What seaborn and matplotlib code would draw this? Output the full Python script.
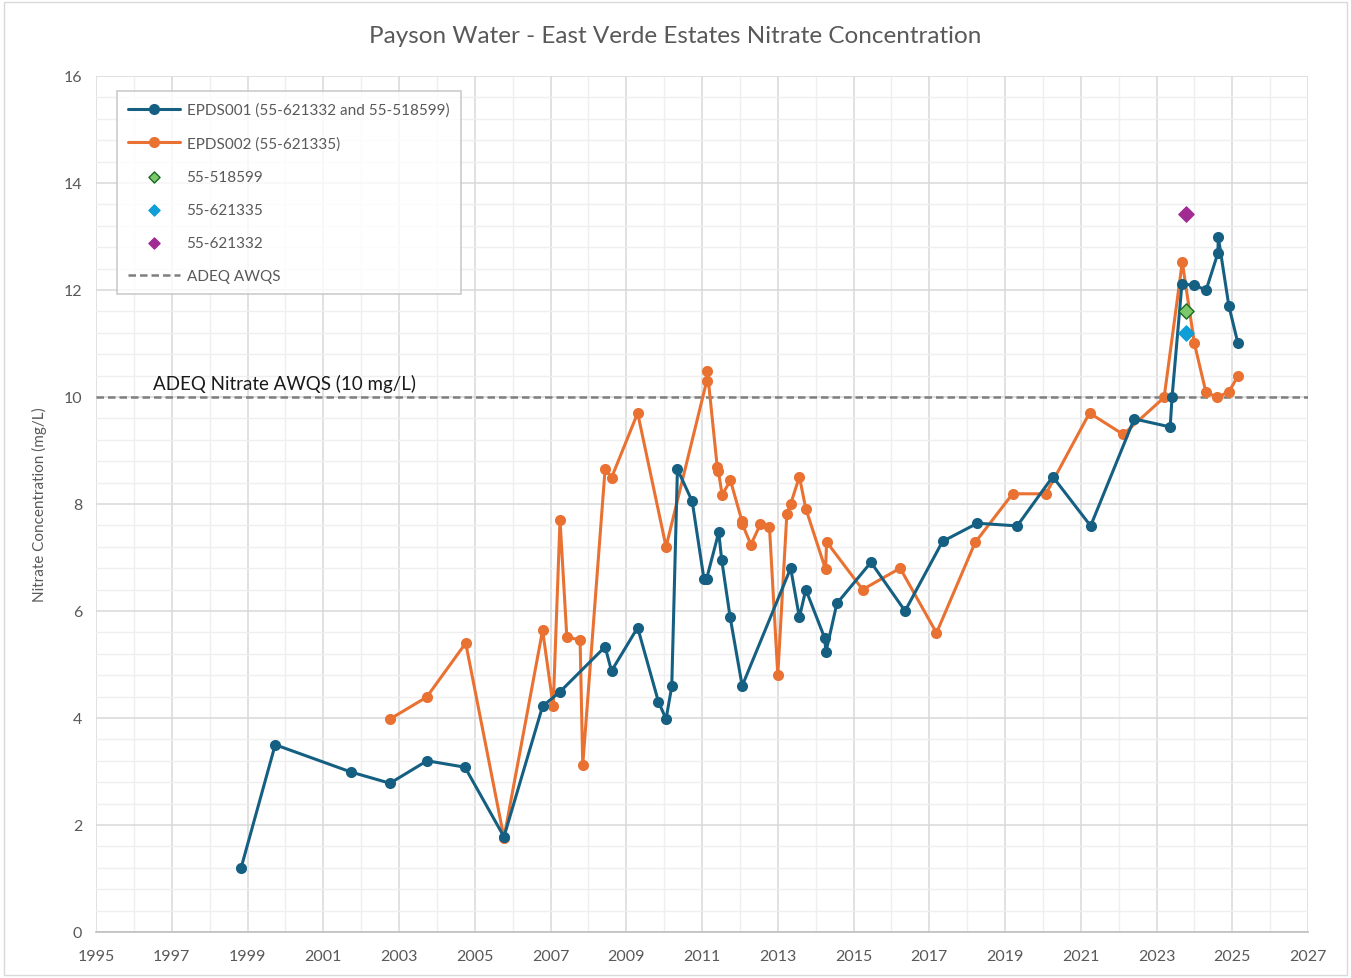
import numpy as np
import pandas as pd
import matplotlib
matplotlib.use("Agg")
import matplotlib.pyplot as plt
from matplotlib.patches import Rectangle
from matplotlib.collections import PathCollection
from matplotlib.ticker import MultipleLocator
import seaborn as sns

# EPDS001 (decimal year, mg/L)
blue_year = [1998.83, 1999.73, 2001.73, 2002.76, 2003.74, 2004.74, 2005.77, 2006.79, 2007.25, 2008.44,
             2008.61, 2009.30, 2009.85, 2010.05, 2010.20, 2010.35, 2010.74, 2011.05, 2011.12, 2011.44,
             2011.52, 2011.74, 2012.06, 2013.34, 2013.57, 2013.74, 2014.24, 2014.27, 2014.56, 2015.46,
             2016.36, 2017.35, 2018.27, 2019.32, 2020.26, 2021.26, 2022.41, 2023.36, 2023.41, 2023.67,
             2023.99, 2024.31, 2024.62, 2024.63, 2024.91, 2025.15]
blue_val = [1.20, 3.50, 2.99, 2.78, 3.20, 3.08, 1.78, 4.22, 4.49, 5.33,
            4.88, 5.69, 4.30, 3.98, 4.59, 8.65, 8.05, 6.60, 6.60, 7.47,
            6.95, 5.89, 4.60, 6.80, 5.88, 6.40, 5.49, 5.23, 6.14, 6.91,
            6.00, 7.30, 7.64, 7.59, 8.51, 7.59, 9.59, 9.44, 10.0, 12.11,
            12.09, 12.0, 12.69, 12.99, 11.70, 11.0]

# EPDS002
orange_year = [2002.76, 2003.73, 2004.76, 2005.77, 2006.79, 2007.07, 2007.25, 2007.43, 2007.78, 2007.85,
               2008.44, 2008.61, 2009.30, 2010.05, 2011.12, 2011.14, 2011.40, 2011.43, 2011.53, 2011.75,
               2012.05, 2012.06, 2012.29, 2012.54, 2012.78, 2013.00, 2013.24, 2013.34, 2013.57, 2013.74,
               2014.26, 2014.29, 2015.24, 2016.23, 2017.19, 2018.21, 2019.20, 2020.08, 2021.23, 2022.12,
               2023.20, 2023.68, 2024.00, 2024.30, 2024.60, 2024.91, 2025.16]
orange_val = [3.98, 4.39, 5.40, 1.76, 5.64, 4.22, 7.70, 5.51, 5.46, 3.12,
              8.65, 8.49, 9.70, 7.20, 10.29, 10.49, 8.70, 8.62, 8.17, 8.44,
              7.69, 7.63, 7.24, 7.62, 7.57, 4.80, 7.82, 8.00, 8.51, 7.91,
              6.78, 7.29, 6.40, 6.80, 5.59, 7.28, 8.19, 8.19, 9.70, 9.30,
              9.99, 12.52, 11.00, 10.10, 9.99, 10.10, 10.40]

# single well samples
well_names = ["55-518599", "55-621335", "55-621332"]
well_year = [2023.78, 2023.78, 2023.78]
well_val = [11.60, 11.19, 13.42]

awqs = 10
year_ticks = list(range(1995, 2028, 2))

sns.set_theme(style="white")
plt.rcParams["font.family"] = ["Lato", "DejaVu Sans"]

blue = "#156082"
orange = "#E97132"
gray_txt = "#595959"

fig = plt.figure(figsize=(13.51, 9.79), dpi=100)
ax = fig.add_axes([0.0711, 0.047, 0.8971, 0.8744])

df1 = pd.DataFrame({"year": blue_year, "val": blue_val})
df2 = pd.DataFrame({"year": orange_year, "val": orange_val})

sns.lineplot(data=df1, x="year", y="val", estimator=None, sort=False, color=blue,
             marker="o", markersize=8, markeredgewidth=0, linewidth=2.2,
             label="EPDS001 (55-621332 and 55-518599)", ax=ax, zorder=4)
sns.lineplot(data=df2, x="year", y="val", estimator=None, sort=False, color=orange,
             marker="o", markersize=8, markeredgewidth=0, linewidth=2.2,
             label="EPDS002 (55-621335)", ax=ax, zorder=3)

well_style = [("#7CC86B", "#196B24"), ("#0F9ED5", "#0F9ED5"), ("#A02B93", "#A02B93")]
for name, x, y, (fc, ec) in zip(well_names, well_year, well_val, well_style):
    sns.scatterplot(x=[x], y=[y], marker="D", s=60, color=fc, edgecolor=ec,
                    linewidth=1, label=name, ax=ax, zorder=5)

ax.axhline(awqs, color="#7F7F7F", linestyle=(0, (3, 1.6)), linewidth=1.8,
           label="ADEQ AWQS", zorder=2)
ax.text(1996.5, awqs + 0.1, "ADEQ Nitrate AWQS (10 mg/L)", fontsize=13.5,
        color="#1a1a1a", va="bottom", ha="left")

ax.set_xlim(1995, 2027)
ax.set_ylim(0, 16)
ax.set_xticks(year_ticks)
ax.xaxis.set_minor_locator(MultipleLocator(1))
ax.yaxis.set_major_locator(MultipleLocator(2))
ax.yaxis.set_minor_locator(MultipleLocator(0.4))
ax.grid(which="major", color="#D9D9D9", linewidth=1.1)
ax.grid(which="minor", color="#EFEFEF", linewidth=1.0)
ax.set_axisbelow(True)
for s in ["top", "right", "left"]:
    ax.spines[s].set_visible(False)
ax.spines["bottom"].set_color("#BFBFBF")
ax.spines["bottom"].set_linewidth(1.2)
ax.tick_params(axis="x", which="both", length=0, labelsize=11.5, colors=gray_txt, pad=12)
ax.tick_params(axis="y", which="both", length=0, labelsize=11.5, colors=gray_txt, pad=10)

ax.set_xlabel("")
ax.set_ylabel("Nitrate Concentration (mg/L)", fontsize=11, color=gray_txt, labelpad=12)
fig.text(0.5, 0.963, "Payson Water - East Verde Estates Nitrate Concentration",
         ha="center", va="center", fontsize=17.5, color=gray_txt)

leg = ax.legend(loc="upper left", bbox_to_anchor=(0.0173, 0.982), borderaxespad=0,
                fontsize=11, frameon=True, fancybox=False, labelspacing=1.25,
                handlelength=3.4, borderpad=0.75, handletextpad=0.4)
leg.get_frame().set_edgecolor("#BFBFBF")
leg.get_frame().set_linewidth(1.2)
for t in leg.get_texts():
    t.set_color(gray_txt)
for h in leg.legend_handles:
    if isinstance(h, PathCollection):
        h.set_sizes([32])

fig.patches.append(Rectangle((0.003, 0.003), 0.994, 0.994, transform=fig.transFigure,
                             fill=False, edgecolor="#D9D9D9", linewidth=1))

fig.savefig("out.png", dpi=100)
